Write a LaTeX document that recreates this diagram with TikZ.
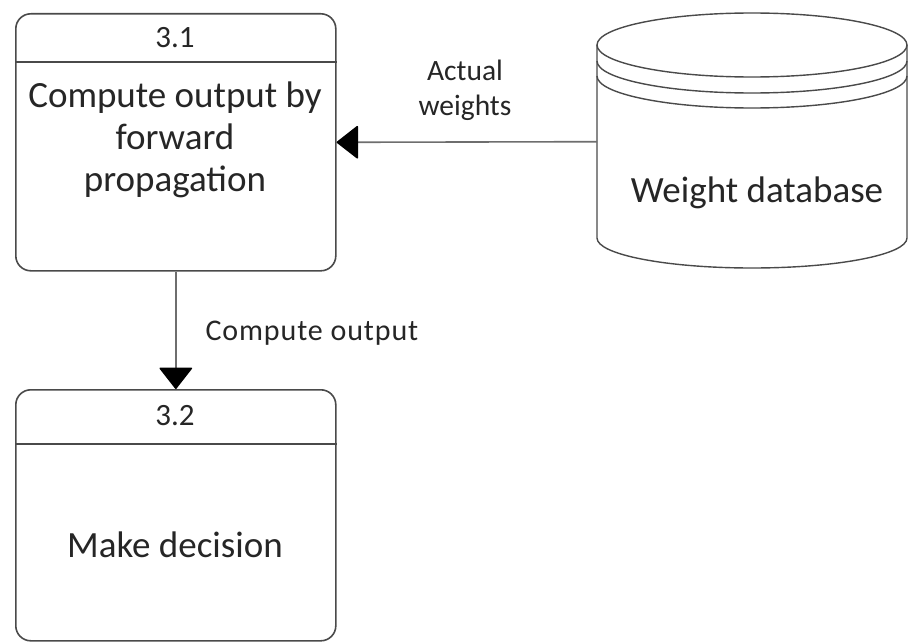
\documentclass[tikz,border=0pt]{standalone}
\usepackage{fontspec}
\setmainfont{Carlito}
\usetikzlibrary{arrows.meta}
\definecolor{ink}{HTML}{262626}
\definecolor{edge}{HTML}{4a4a4a}
\definecolor{wire}{HTML}{6e6e6e}

\begin{document}
\begin{tikzpicture}[x=1pt,y=-1pt,
  procbox/.style={draw=edge, line width=1.6pt, rounded corners=15pt,
    minimum width=320pt, inner sep=0pt, anchor=north west},
  divider/.style={draw=edge, line width=1.6pt},
  store/.style={draw=edge, line width=1.4pt},
  flow/.style={draw=wire, line width=1.6pt,
    -{Triangle[width=34pt,length=22pt,round,color=black,fill=black]}},
  idtext/.style={text=ink, font=\fontsize{31}{36}\selectfont},
  bodytext/.style={text=ink, align=center, font=\fontsize{37}{42}\selectfont},
  flowtext/.style={text=ink, align=center, font=\fontsize{29.5}{35}\selectfont}
]
\fill[white] (0,0) rectangle (910,642);
\useasboundingbox (0,0) rectangle (910,642);

% process 3.1
\node[procbox, minimum height=257pt] (p31) at (15,13) {};
\draw[divider] (p31.west |- 0,62) -- (p31.east |- 0,62);
\node[idtext] (id31) at (175,38) {3.1};
\node[bodytext] (t31) at (175,140) {Compute output by\\forward\\propagation};

% process 3.2
\node[procbox, minimum height=251pt] (p32) at (15,389) {};
\draw[divider] (p32.west |- 0,444) -- (p32.east |- 0,444);
\node[idtext] (id32) at (175,416) {3.2};
\node[bodytext] (t32) at (175,545) {Make decision};

% data store: weight database
\node[minimum width=310pt, minimum height=193pt, inner sep=0pt, anchor=north west] (db) at (597,45) {};
\draw[store] (597,45) -- (597,238)
  arc[start angle=180, end angle=0, x radius=155, y radius=30] -- (907,45);
\draw[store] (752,45) ellipse [x radius=155, y radius=32];
\draw[store] (597,61) arc[start angle=180, end angle=0, x radius=155, y radius=32];
\draw[store] (597,76) arc[start angle=180, end angle=0, x radius=155, y radius=32];
\node[bodytext] (dbtext) at (757,193) {Weight database};

% data flows
\draw[flow] (db.west) -- (p31.east);
\node[flowtext] (lw) at (465,90) {Actual\\weights};
\draw[flow] (p31.south) -- (p32.north);
\node[flowtext, anchor=west, font=\fontsize{30}{35}\selectfont\addfontfeature{LetterSpace=3}] (lo) at (202,333) {Compute output};
\end{tikzpicture}
\end{document}
